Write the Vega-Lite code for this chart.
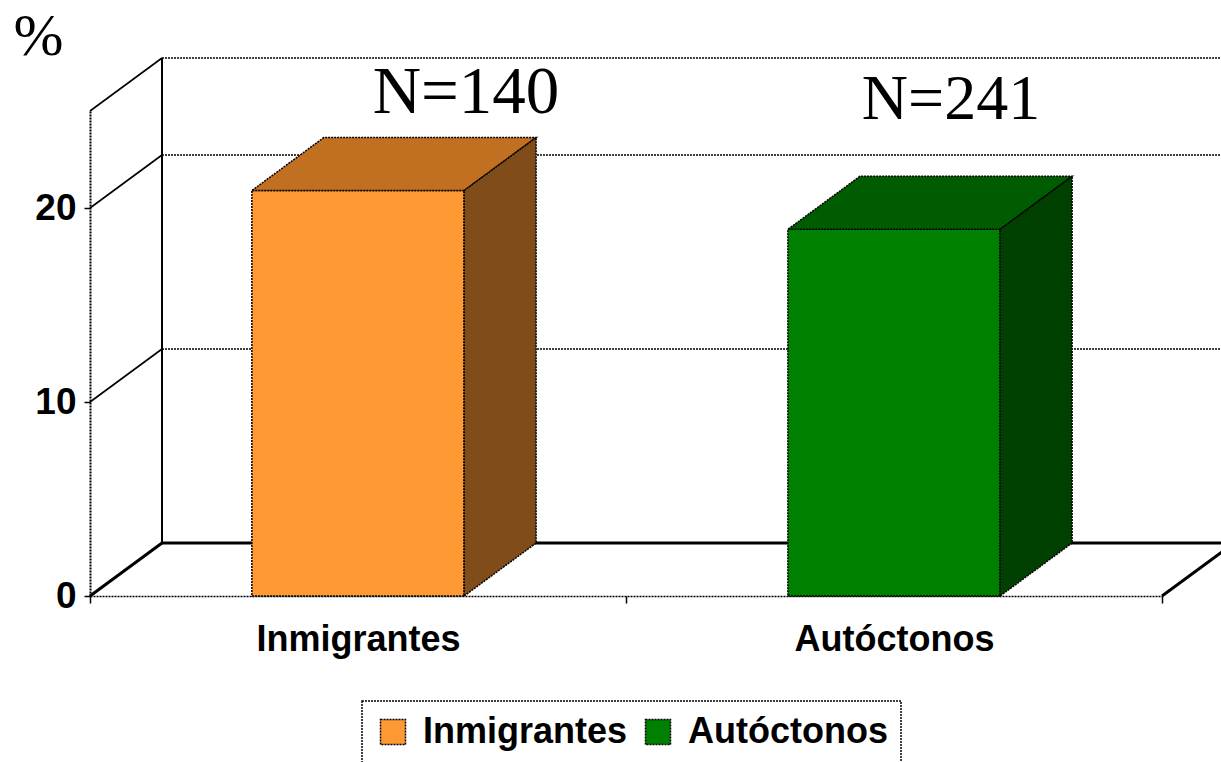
{
  "$schema": "https://vega.github.io/schema/vega-lite/v6.json",
  "autosize": {"type": "none"},
  "width": 1072,
  "height": 485,
  "padding": {"left": 90, "top": 111, "right": 59, "bottom": 166},
  "background": "white",
  "datasets": {
    "barras": [
      {"grupo": "Inmigrantes", "pct": 20.9, "n": 140},
      {"grupo": "Autóctonos", "pct": 18.9, "n": 241}
    ],
    "rejilla": [{"v": 10}, {"v": 20}, {"v": 25}],
    "suelo": [{"borde": 0}, {"borde": 2}]
  },
  "config": {
    "view": {"stroke": null},
    "axis": {"grid": false},
    "legend": {"strokeDash": [2, 1], "strokeWidth": 1.5}
  },
  "resolve": {"scale": {"color": "independent"}},
  "layer": [
    {
      "data": {"name": "rejilla"},
      "mark": {"type": "rule", "stroke": "#000", "strokeWidth": 1.5, "strokeDash": [2, 1], "xOffset": 72, "x2Offset": 72, "yOffset": -53},
      "encoding": {
        "x": {"datum": 0, "type": "quantitative"},
        "x2": {"datum": 2.3},
        "y": {"field": "v", "type": "quantitative"}
      }
    },
    {
      "data": {"name": "rejilla"},
      "mark": {"type": "rule", "stroke": "#000", "strokeWidth": 1.6, "x2Offset": 72, "y2Offset": -53},
      "encoding": {
        "x": {"datum": 0, "type": "quantitative"},
        "x2": {"datum": 0},
        "y": {"field": "v", "type": "quantitative"},
        "y2": {"field": "v"}
      }
    },
    {
      "data": {"values": [{}]},
      "mark": {"type": "rule", "stroke": "#000", "strokeWidth": 2, "xOffset": 72, "yOffset": -53, "y2Offset": -53},
      "encoding": {
        "x": {"datum": 0, "type": "quantitative"},
        "y": {"datum": 0, "type": "quantitative"},
        "y2": {"datum": 25}
      }
    },
    {
      "data": {"values": [{}]},
      "mark": {"type": "rule", "stroke": "#000", "strokeWidth": 3, "xOffset": 72, "x2Offset": 72, "yOffset": -53},
      "encoding": {
        "x": {"datum": 0, "type": "quantitative"},
        "x2": {"datum": 2.3},
        "y": {"datum": 0, "type": "quantitative"}
      }
    },
    {
      "data": {"name": "suelo"},
      "mark": {"type": "rule", "stroke": "#000", "strokeWidth": 3, "x2Offset": 72, "y2Offset": -53},
      "encoding": {
        "x": {"field": "borde", "type": "quantitative"},
        "x2": {"field": "borde"},
        "y": {"datum": 0, "type": "quantitative"},
        "y2": {"datum": 0}
      }
    },
    {
      "data": {"name": "barras"},
      "transform": [
        {"window": [{"op": "row_number", "as": "orden"}]},
        {"calculate": "datum.orden - 0.5", "as": "xc"},
        {"calculate": "datum.xc - 0.198", "as": "x0"},
        {"calculate": "datum.xc + 0.198", "as": "x1"}
      ],
      "mark": {"type": "rect", "stroke": "#000", "strokeWidth": 1.5, "strokeDash": [2, 1]},
      "encoding": {
        "x": {
          "field": "x0", "type": "quantitative",
          "scale": {"domain": [0, 2], "nice": false, "zero": false},
          "axis": {
            "title": null,
            "values": [0, 0.5, 1, 1.5, 2],
            "domainColor": "#000", "domainWidth": 1.5, "domainDash": [2, 1],
            "tickColor": "#000", "tickWidth": 1.5, "tickSize": 7,
            "tickOpacity": {"condition": {"test": "datum.value % 1 === 0", "value": 1}, "value": 0},
            "labelExpr": "datum.value === 0.5 ? 'Inmigrantes' : datum.value === 1.5 ? 'Autóctonos' : ''",
            "labelFont": "Liberation Sans", "labelFontWeight": "bold", "labelFontSize": 36,
            "labelColor": "#000", "labelBaseline": "alphabetic", "labelPadding": 47,
            "labelOverlap": false, "labelFlush": false, "labelBound": false, "labelLimit": 500
          }
        },
        "x2": {"field": "x1"},
        "y": {
          "field": "pct", "type": "quantitative",
          "scale": {"domain": [0, 25], "nice": false},
          "axis": {
            "values": [0, 10, 20],
            "domainColor": "#000", "domainWidth": 2, "domainDash": [2, 1],
            "tickColor": "#000", "tickWidth": 1.5, "tickSize": 6,
            "labelFont": "Liberation Sans", "labelFontWeight": "bold", "labelFontSize": 37,
            "labelColor": "#000", "labelPadding": 8, "labelBaseline": "middle",
            "title": "%", "titleAngle": 0, "titleFont": "Liberation Serif", "titleFontWeight": "normal",
            "titleFontSize": 60, "titleColor": "#000", "titleAlign": "center", "titleBaseline": "alphabetic",
            "titleX": -52, "titleY": -57
          }
        },
        "y2": {"datum": 0},
        "color": {
          "field": "grupo", "type": "nominal",
          "scale": {"domain": ["Inmigrantes", "Autóctonos"], "range": ["#FF9933", "#008000"]},
          "legend": {
            "title": null, "orient": "none", "direction": "horizontal",
            "legendX": 272, "legendY": 590,
            "symbolType": "square", "symbolSize": 625, "symbolStrokeColor": "#000", "symbolStrokeWidth": 1.5,
            "symbolDash": [2, 1], "symbolOpacity": 1,
            "labelFont": "Liberation Sans", "labelFontWeight": "bold", "labelFontSize": 36, "labelColor": "#000",
            "labelLimit": 500, "labelOffset": 12, "columnPadding": 12, "padding": 13,
            "strokeColor": "#000"
          }
        }
      }
    },
    {
      "data": {"name": "barras"},
      "transform": [
        {"window": [{"op": "row_number", "as": "orden"}]},
        {"calculate": "datum.orden - 0.5", "as": "xc"},
        {"calculate": "[0, 1]", "as": "k"},
        {"flatten": ["k"]},
        {"calculate": "datum.xc - 0.198 + datum.k * 0.1343", "as": "xi"},
        {"calculate": "datum.xc + 0.198 + datum.k * 0.1343", "as": "xd"},
        {"calculate": "datum.pct + datum.k * 2.732", "as": "yt"}
      ],
      "mark": {"type": "area", "orient": "horizontal", "stroke": "#000", "strokeWidth": 1.5, "strokeDash": [2, 1], "opacity": 1},
      "encoding": {
        "y": {"field": "yt", "type": "quantitative"},
        "x": {"field": "xi", "type": "quantitative"},
        "x2": {"field": "xd"},
        "detail": {"field": "grupo"},
        "color": {
          "field": "grupo", "type": "nominal", "legend": null,
          "scale": {"domain": ["Inmigrantes", "Autóctonos"], "range": ["#C07020", "#005C00"]}
        }
      }
    },
    {
      "data": {"name": "barras"},
      "transform": [
        {"window": [{"op": "row_number", "as": "orden"}]},
        {"calculate": "datum.orden - 0.5", "as": "xc"},
        {"calculate": "[0, 1]", "as": "k"},
        {"flatten": ["k"]},
        {"calculate": "datum.xc + 0.198 + datum.k * 0.1343", "as": "xs"},
        {"calculate": "datum.pct + datum.k * 2.732", "as": "yt"},
        {"calculate": "datum.k * 2.732", "as": "yb"}
      ],
      "mark": {"type": "area", "orient": "vertical", "stroke": "#000", "strokeWidth": 1.5, "strokeDash": [2, 1], "opacity": 1},
      "encoding": {
        "x": {"field": "xs", "type": "quantitative"},
        "y": {"field": "yt", "type": "quantitative", "stack": null},
        "y2": {"field": "yb"},
        "detail": {"field": "grupo"},
        "color": {
          "field": "grupo", "type": "nominal", "legend": null,
          "scale": {"domain": ["Inmigrantes", "Autóctonos"], "range": ["#804C1A", "#004000"]}
        }
      }
    },
    {
      "data": {"name": "barras"},
      "transform": [
        {"window": [{"op": "row_number", "as": "orden"}]},
        {"calculate": "datum.orden - 0.5", "as": "xc"},
        {"calculate": "'N=' + datum.n", "as": "etiqueta"},
        {"filter": "datum.grupo === 'Inmigrantes'"}
      ],
      "mark": {"type": "text", "font": "Liberation Serif", "fontSize": 67, "color": "#000", "align": "center", "baseline": "alphabetic", "dx": 108, "dy": -78},
      "encoding": {
        "x": {"field": "xc", "type": "quantitative"},
        "y": {"field": "pct", "type": "quantitative"},
        "text": {"field": "etiqueta"}
      }
    },
    {
      "data": {"name": "barras"},
      "transform": [
        {"window": [{"op": "row_number", "as": "orden"}]},
        {"calculate": "datum.orden - 0.5", "as": "xc"},
        {"calculate": "'N=' + datum.n", "as": "etiqueta"},
        {"filter": "datum.grupo === 'Autóctonos'"}
      ],
      "mark": {"type": "text", "font": "Liberation Serif", "fontSize": 64, "color": "#000", "align": "center", "baseline": "alphabetic", "dx": 57, "dy": -110},
      "encoding": {
        "x": {"field": "xc", "type": "quantitative"},
        "y": {"field": "pct", "type": "quantitative"},
        "text": {"field": "etiqueta"}
      }
    }
  ]
}
